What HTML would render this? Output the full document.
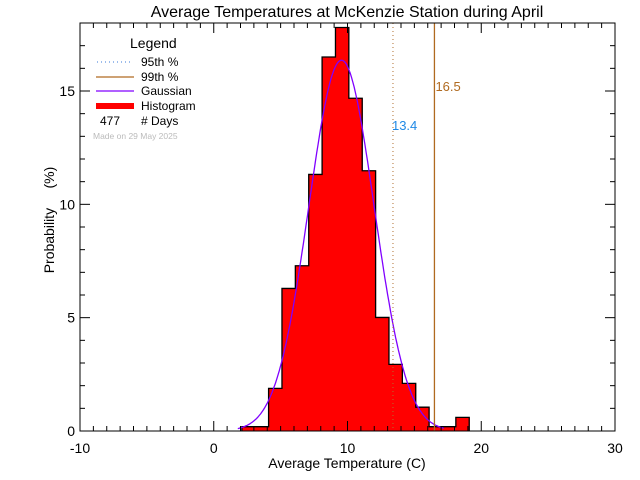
<!DOCTYPE html>
<html><head><meta charset="utf-8"><style>
body{margin:0;background:#fff}
svg{display:block;font-family:"Liberation Sans","DejaVu Sans",sans-serif}
</style></head><body>
<svg id="chart" width="640" height="480" viewBox="0 0 640 480">
<text x="347" y="17" font-size="16" text-anchor="middle">Average Temperatures at McKenzie Station during April</text>
<g id="bars"></g>
<g id="gauss"></g>
<g id="pct"></g>
<rect x="80" y="23" width="535" height="408" fill="none" stroke="#000" stroke-width="1"/>
<g id="axes"></g>
<text x="347" y="468" font-size="14" text-anchor="middle">Average Temperature (C)</text>
<text x="0" y="0" font-size="14" text-anchor="middle" transform="translate(54,220) rotate(-90)" xml:space="preserve">Probability     (%)</text>
<g>
<text x="130" y="48" font-size="14">Legend</text>
<line x1="97" y1="62" x2="133" y2="62" stroke="#3a7ad8" stroke-dasharray="1,3"/>
<text x="141" y="66" font-size="12">95th %</text>
<line x1="96" y1="77" x2="134" y2="77" stroke="#b06a20" stroke-width="1.3"/>
<text x="141" y="81" font-size="12">99th %</text>
<line x1="96" y1="91" x2="134" y2="91" stroke="#8000ff" stroke-width="1.3"/>
<text x="141" y="95" font-size="12">Gaussian</text>
<rect x="96" y="103" width="38" height="6" fill="#f00"/>
<text x="141" y="110" font-size="12">Histogram</text>
<text x="100" y="125" font-size="12">477</text>
<text x="141" y="125" font-size="12"># Days</text>
<text x="93" y="139" font-size="8.5" fill="#bbb">Made on 29 May 2025</text>
</g>
</svg>
<script>
const binStarts=[2.1,3.1,4.1,5.1,6.1,7.1,8.1,9.1,10.1,11.1,12.1,13.1,14.1,15.1,16.1,17.1,18.1];
const binValues=[0.19,0.19,1.88,6.29,7.29,11.32,16.5,17.8,14.68,11.48,5.01,2.94,2.10,1.05,0.19,0.19,0.6];
const binWidth=1;
const gaussParams=[9.55,2.44,16.36]; // mean, sigma, peak
const gaussRange=[1.8,17.2];
const percentileValues=[13.4,16.5];
const percentileLabels=["13.4","16.5"];
const xTicks=[-10,0,10,20,30];
const yTicks=[0,5,10,15];
const xDomain=[-10,30], yDomain=[0,18];
const NS="http://www.w3.org/2000/svg";
const X=v=>80+(v-xDomain[0])/(xDomain[1]-xDomain[0])*535;
const Y=v=>431-(v-yDomain[0])/(yDomain[1]-yDomain[0])*408;
function mk(tag,attrs,parent){const e=document.createElementNS(NS,tag);for(const k in attrs)e.setAttribute(k,attrs[k]);parent.appendChild(e);return e;}
const bars=document.getElementById('bars');
let sd='M'+X(binStarts[0])+','+Y(0);
binStarts.forEach((s,i)=>{
 const r=mk('rect',{x:X(s),y:Y(binValues[i]),width:X(s+binWidth)-X(s)+0.5,height:Y(0)-Y(binValues[i]),fill:'#f00'},bars);
 
 
 sd+='L'+X(s)+','+Y(binValues[i])+'L'+X(s+binWidth)+','+Y(binValues[i]);
});
sd+='L'+X(binStarts[binStarts.length-1]+binWidth)+','+Y(0);
const outline=mk('path',{d:sd,fill:'none',stroke:'#000','stroke-width':1.3},bars);


const g=document.getElementById('gauss');
let d='';
for(let t=gaussRange[0];t<=gaussRange[1];t+=0.1){const v=gaussParams[2]*Math.exp(-Math.pow(t-gaussParams[0],2)/(2*gaussParams[1]*gaussParams[1]));d+=(d?'L':'M')+X(t).toFixed(1)+','+Y(v).toFixed(1);}
const gp=mk('path',{d:d,fill:'none',stroke:'#8000ff','stroke-width':1.3},g);


const pc=document.getElementById('pct');
const l95=mk('line',{x1:X(percentileValues[0]),x2:X(percentileValues[0]),y1:23,y2:431,stroke:'#b07030','stroke-dasharray':'1,3'},pc);


const l99=mk('line',{x1:X(percentileValues[1]),x2:X(percentileValues[1]),y1:23,y2:431,stroke:'#b06a20','stroke-width':1.3},pc);


const t95=mk('text',{x:X(percentileValues[0])-1,y:130,'font-size':13,fill:'#1e88e5'},pc);t95.textContent=percentileLabels[0];


const t99=mk('text',{x:X(percentileValues[1])+1,y:91,'font-size':13,fill:'#b06a20'},pc);t99.textContent=percentileLabels[1];


const ax=document.getElementById('axes');
for(let v=xDomain[0];v<=xDomain[1];v++){const maj=xTicks.includes(v);const L=maj?10:5;
 mk('line',{x1:X(v),x2:X(v),y1:431,y2:431-L,stroke:'#000'},ax);mk('line',{x1:X(v),x2:X(v),y1:23,y2:23+L,stroke:'#000'},ax);}
for(let v=yDomain[0];v<=yDomain[1];v++){const maj=yTicks.includes(v);const L=maj?10:5;
 mk('line',{x1:80,x2:80+L,y1:Y(v),y2:Y(v),stroke:'#000'},ax);mk('line',{x1:615,x2:615-L,y1:Y(v),y2:Y(v),stroke:'#000'},ax);}
xTicks.forEach(v=>{const t=mk('text',{x:X(v),y:453,'font-size':14,'text-anchor':'middle'},ax);t.textContent=v;
 
 });
yTicks.forEach(v=>{const t=mk('text',{x:75,y:Y(v)+5,'font-size':14,'text-anchor':'end'},ax);t.textContent=v;
 
 });
</script>
</body></html>
